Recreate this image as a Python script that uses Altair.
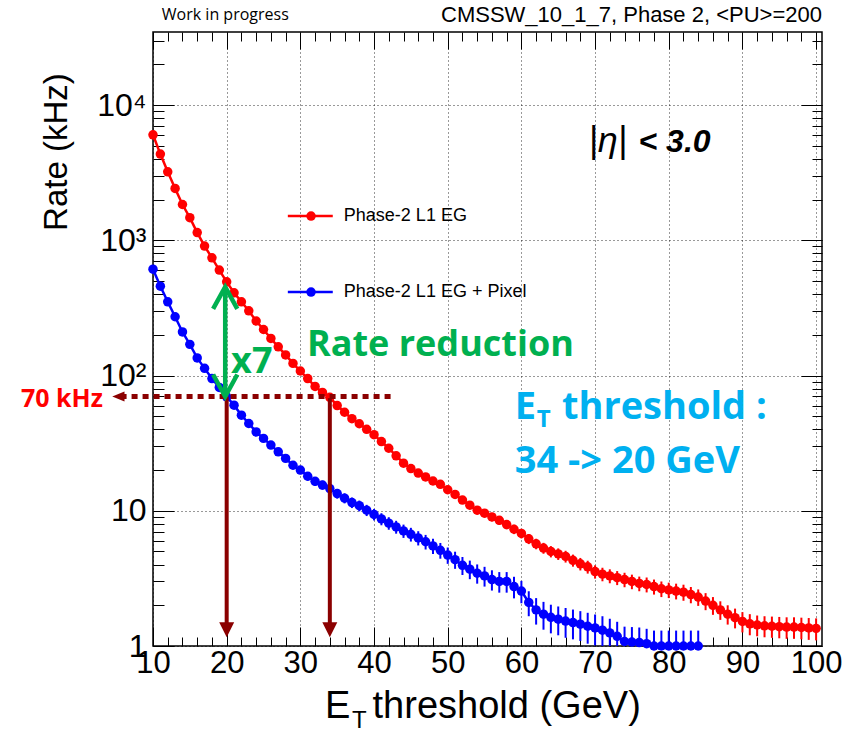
import altair as alt
import pandas as pd

# ---------------- data ----------------
red_thr = list(range(10, 101))
red_rate = [6030, 4340, 3210, 2420, 1840, 1470, 1140, 906, 742, 602,
            493, 409, 351, 301, 253, 219, 188, 163, 142, 123,
            108, 95, 83, 75, 69, 60, 53.5, 48, 44, 40,
            36.5, 32.5, 29, 25.5, 22.5, 20.5, 19, 17.8, 16.6, 15.7,
            14.3, 13.2, 12.0, 11.0, 10.1, 9.6, 9.0, 8.5, 7.9, 7.3,
            6.8, 6.2, 5.7, 5.3, 5.0, 4.8, 4.6, 4.3, 4.05, 3.85,
            3.55, 3.4, 3.3, 3.2, 3.1, 3.0, 2.9, 2.85, 2.75, 2.65,
            2.6, 2.55, 2.5, 2.4, 2.3, 2.15, 2.0, 1.85, 1.72, 1.62,
            1.52, 1.46, 1.43, 1.41, 1.40, 1.39, 1.38, 1.38, 1.37, 1.36, 1.35]
red_err = [16, 14, 12, 10.5, 9, 8, 7, 6.4, 5.8, 5.2,
           4.7, 4.3, 4.0, 3.7, 3.4, 3.2, 2.9, 2.7, 2.5, 2.4,
           2.2, 2.1, 1.9, 1.8, 1.75, 1.65, 1.55, 1.48, 1.41, 1.35,
           1.29, 1.22, 1.15, 1.08, 1.01, 0.97, 0.93, 0.9, 0.87, 0.84,
           0.81, 0.77, 0.74, 0.71, 0.68, 0.66, 0.64, 0.62, 0.6, 0.58,
           0.55, 0.53, 0.51, 0.49, 0.48, 0.47, 0.46, 0.44, 0.43, 0.42,
           0.4, 0.39, 0.39, 0.38, 0.38, 0.37, 0.36, 0.36, 0.35, 0.35,
           0.34, 0.34, 0.34, 0.33, 0.32, 0.31, 0.3, 0.29, 0.28, 0.27,
           0.26, 0.26, 0.25, 0.25, 0.25, 0.25, 0.25, 0.25, 0.25, 0.25, 0.25]

blue_thr = list(range(10, 85))
blue_rate = [612, 458, 351, 272, 210, 170, 135, 113, 95, 81.7,
             69.6, 60.4, 50.9, 44.2, 38.3, 34.3, 30.6, 27.3, 24.4, 21.7,
             20.0, 18.0, 16.5, 15.5, 14.6, 13.4, 12.4, 11.5, 10.9, 10.1,
             9.4, 8.7, 8.1, 7.6, 7.1, 6.7, 6.3, 5.9, 5.5, 5.1,
             4.7, 4.35, 3.95, 3.7, 3.45, 3.3, 3.1, 3.0, 3.0, 2.75,
             2.55, 2.1, 1.85, 1.72, 1.63, 1.58, 1.53, 1.49, 1.45, 1.4,
             1.36, 1.31, 1.25, 1.18, 1.08, 1.07, 1.06, 1.04, 1.0, 1.0,
             1.0, 1.0, 1.0, 1.0, 1.0]
blue_err = [7.5, 6.5, 5.6, 5.0, 4.4, 3.9, 3.5, 3.2, 2.9, 2.7,
            2.5, 2.3, 2.15, 2.0, 1.87, 1.77, 1.67, 1.58, 1.49, 1.4,
            1.35, 1.28, 1.22, 1.18, 1.15, 1.1, 1.06, 1.03, 1.0, 0.96,
            0.92, 0.89, 0.86, 0.83, 0.8, 0.78, 0.76, 0.73, 0.71, 0.68,
            0.65, 0.63, 0.6, 0.58, 0.56, 0.55, 0.53, 0.52, 0.52, 0.5,
            0.48, 0.44, 0.41, 0.4, 0.39, 0.38, 0.38, 0.37, 0.36, 0.36,
            0.35, 0.35, 0.34, 0.33, 0.31, 0.31, 0.31, 0.3, 0.3, 0.3,
            0.3, 0.3, 0.3, 0.3, 0.3]

series_names = ["Phase-2 L1 EG", "Phase-2 L1 EG + Pixel"]
series_colors = ["#FF0000", "#0000FF"]

x_major = [10, 20, 30, 40, 50, 60, 70, 80, 90, 100]
x_minor = [v for v in range(10, 101, 2) if v % 10 != 0]
y_major = [1, 10, 100, 1000, 10000]
y_minor = [m * d for d in [1, 10, 100, 1000, 10000] for m in range(2, 10) if m * d <= 34000]

# annotation anchors (data coordinates: GeV, kHz)
legend_y = [1510, 414]
rate_limit = 70          # kHz
thr_before, thr_after = 34, 20   # GeV
rate_at_20_red = 453

# ---------------- tables ----------------
red_df = pd.DataFrame({"thr": red_thr, "rate": red_rate, "err": red_err})
red_df["lo"] = red_df.rate - red_df.err
red_df["hi"] = red_df.rate + red_df.err
blue_df = pd.DataFrame({"thr": blue_thr, "rate": blue_rate, "err": blue_err})
blue_df["lo"] = blue_df.rate - blue_df.err
blue_df["hi"] = blue_df.rate + blue_df.err

XS = alt.Scale(domain=[10, 100.8], nice=False, zero=False)
YS = alt.Scale(type="log", domain=[1, 34700], nice=False)
ROOT_FONT = "Liberation Sans"
OFFICE_FONT = "Open Sans"
DARKRED = "#8B0000"
GREEN = "#00B050"
CYAN = "#00B0F0"


def X(field, axis=None):
    return alt.X(field, type="quantitative", scale=XS, axis=axis)


def Y(field, axis=None):
    return alt.Y(field, type="quantitative", scale=YS, axis=axis)


def axis_layer(xaxis, yaxis):
    return alt.Chart(red_df).mark_point(opacity=0).encode(x=X("thr", xaxis), y=Y("rate", yaxis))


common = dict(domain=False, title=None, tickColor="black", tickWidth=1)
ylab = ("datum.value == 1 ? '1' : datum.value == 10 ? '10' : datum.value == 100 ? '10²' : "
        "datum.value == 1000 ? '10³' : '10⁴'")

axes = [
    axis_layer(
        alt.Axis(orient="bottom", values=x_major, ticks=False, labels=False, grid=True,
                 gridColor="black", gridDash=[1, 3], gridWidth=1, gridOpacity=0.8, **common),
        alt.Axis(orient="left", values=y_major, ticks=False, labels=False, grid=True,
                 gridColor="black", gridDash=[1, 3], gridWidth=1, gridOpacity=0.8, **common)),
    axis_layer(
        alt.Axis(orient="bottom", values=x_major, tickSize=19, offset=-19, grid=False,
                 labelFont=ROOT_FONT, labelFontSize=31, labelColor="black", labelPadding=2,
                 labelFlush=False, format="d", **common),
        alt.Axis(orient="left", values=y_major, tickSize=21, offset=-21, grid=False,
                 labelFont=ROOT_FONT, labelFontSize=32, labelColor="black", labelPadding=7,
                 labelExpr=ylab, **common)),
    axis_layer(
        alt.Axis(orient="bottom", values=x_minor, tickSize=9, offset=-9, grid=False, labels=False, **common),
        alt.Axis(orient="left", values=y_minor, tickSize=11, offset=-11, grid=False, labels=False, **common)),
    axis_layer(
        alt.Axis(orient="top", values=x_major, tickSize=17, offset=-17, grid=False, labels=False, **common),
        alt.Axis(orient="right", values=y_major, tickSize=21, offset=-21, grid=False, labels=False, **common)),
    axis_layer(
        alt.Axis(orient="top", values=x_minor, tickSize=9, offset=-9, grid=False, labels=False, **common),
        alt.Axis(orient="right", values=y_minor, tickSize=10, offset=-10, grid=False, labels=False, **common)),
]


def series_layers(df, color):
    err = alt.Chart(df).mark_rule(color=color, strokeWidth=2, clip=True).encode(
        x=X("thr"), y=Y("lo"), y2="hi")
    line = alt.Chart(df).mark_line(color=color, strokeWidth=2.5).encode(x=X("thr"), y=Y("rate"))
    pts = alt.Chart(df).mark_circle(color=color, size=90, opacity=1).encode(x=X("thr"), y=Y("rate"))
    return [err, line, pts]


# legend drawn in data space
leg_df = pd.DataFrame({"name": series_names, "color": series_colors, "y": legend_y,
                       "x0": [28.3] * 2, "x1": [34.4] * 2, "xm": [31.45] * 2, "xt": [35.9] * 2})
leg_line = alt.Chart(leg_df).mark_rule(strokeWidth=2.5).encode(
    x=X("x0"), x2="x1", y=Y("y"), color=alt.Color("color:N", scale=None))
leg_pt = alt.Chart(leg_df).mark_circle(size=90, opacity=1).encode(
    x=X("xm"), y=Y("y"), color=alt.Color("color:N", scale=None))
leg_txt = alt.Chart(leg_df).mark_text(align="left", baseline="middle", font=ROOT_FONT,
                                      fontSize=18, color="black").encode(
    x=X("xt"), y=Y("y"), text="name:N")

# 70 kHz dotted line with left arrow
lim_df = pd.DataFrame({"x0": [5.6], "x1": [42.3], "y": [rate_limit], "xa": [5.3]})
lim_line = alt.Chart(lim_df).mark_rule(color=DARKRED, strokeWidth=5, strokeDash=[6, 5]).encode(
    x=X("x0"), x2="x1", y=Y("y"))
lim_head = alt.Chart(lim_df).mark_point(shape="M 1 -0.8 L 1 0.8 L -1 0 Z", filled=True, size=150,
                                        color=DARKRED, opacity=1).encode(x=X("xa"), y=Y("y"))
lim_txt = alt.Chart(pd.DataFrame({"x": [3.2], "y": [58.3], "t": ["70 kHz"]})).mark_text(
    align="right", baseline="alphabetic", font=OFFICE_FONT, fontWeight="bold", fontSize=25,
    color="#FF0000").encode(x=X("x"), y=Y("y"), text="t:N")

# vertical threshold arrows
arr_df = pd.DataFrame({"x": [thr_after, thr_before], "top": [rate_limit, 68], "bot": [1.32, 1.32]})
arr_line = alt.Chart(arr_df).mark_rule(color=DARKRED, strokeWidth=4).encode(
    x=X("x"), y=Y("top"), y2="bot")
arr_head = alt.Chart(arr_df).mark_point(shape="M -1 -1 L 1 -1 L 0 1 Z", filled=True, size=225,
                                        color=DARKRED, opacity=1).encode(x=X("x"), y=Y("bot"))

# green double arrow x7
g_df = pd.DataFrame({"x": [19.8], "top": [rate_at_20_red], "bot": [rate_limit]})
g_line = alt.Chart(g_df).mark_rule(color=GREEN, strokeWidth=4.5).encode(x=X("x"), y=Y("top"), y2="bot")
g_up = alt.Chart(g_df).mark_point(shape="M -0.55 1 L 0 0 L 0.55 1", filled=False, size=1936,
                                  strokeWidth=4.5, color=GREEN, opacity=1).encode(x=X("x"), y=Y("top"))
g_dn = alt.Chart(g_df).mark_point(shape="M -0.55 -1 L 0 0 L 0.55 -1", filled=False, size=1936,
                                  strokeWidth=4.5, color=GREEN, opacity=1).encode(x=X("x"), y=Y("bot"))


# texts
def text_layer(x, y, t, align="left", baseline="alphabetic", **kw):
    df = pd.DataFrame({"x": [x], "y": [y], "t": [t]})
    return alt.Chart(df).mark_text(align=align, baseline=baseline, **kw).encode(
        x=X("x"), y=Y("y"), text="t:N")


texts = [
    text_layer(30.9, 139, "Rate reduction", font=OFFICE_FONT, fontWeight="bold", fontSize=36, color=GREEN),
    text_layer(20.6, 104, "x7", font=OFFICE_FONT, fontWeight="bold", fontSize=36, color=GREEN),
    text_layer(59.1, 47.6, "E", font=OFFICE_FONT, fontWeight="bold", fontSize=38, color=CYAN),
    text_layer(62.1, 41.5, "T", font=OFFICE_FONT, fontWeight="bold", fontSize=24, color=CYAN),
    text_layer(65.5, 47.6, "threshold :", font=OFFICE_FONT, fontWeight="bold", fontSize=38, color=CYAN),
    text_layer(59.1, 19.0, "34 -> 20 GeV", font=OFFICE_FONT, fontWeight="bold", fontSize=38, color=CYAN),
    text_layer(69.1, 4490, "|η|", font=ROOT_FONT, fontStyle="italic", fontSize=36, color="black"),
    text_layer(75.9, 4490, "< 3.0", font=ROOT_FONT, fontStyle="italic", fontWeight="bold", fontSize=32,
               color="black"),
    text_layer(11.2, 42600, "Work in progress", font=OFFICE_FONT, fontSize=16, color="black"),
    text_layer(100.8, 41100, "CMSSW_10_1_7, Phase 2, <PU>=200", align="right", font=ROOT_FONT,
               fontSize=22, color="black"),
    # axis titles
    text_layer(33.35, 0.293, "E", font=ROOT_FONT, fontSize=38, color="black"),
    text_layer(37.0, 0.247, "T", font=ROOT_FONT, fontSize=24, color="black"),
    text_layer(39.8, 0.293, "threshold (GeV)", font=ROOT_FONT, fontSize=38, color="black"),
    text_layer(-3.0, 4490, "Rate (kHz)", align="center", baseline="middle", angle=270,
               font=ROOT_FONT, fontSize=33, color="black"),
]

layers = axes + series_layers(red_df, "#FF0000") + series_layers(blue_df, "#0000FF") + [
    leg_line, leg_pt, leg_txt, lim_line, lim_head, lim_txt, arr_line, arr_head,
    g_line, g_up, g_dn] + texts

chart = alt.layer(*layers).resolve_axis(x="independent", y="independent").properties(
    width=669, height=614, autosize="none",
    padding={"left": 153, "top": 32, "right": 33, "bottom": 87},
    background="white",
).configure_view(stroke="black", strokeWidth=1.5)

chart.save("out.html", embed_options={"renderer": "svg", "actions": False})
